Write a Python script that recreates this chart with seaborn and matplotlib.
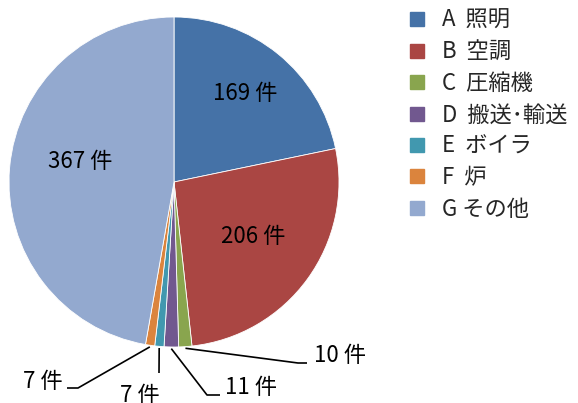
import numpy as np
import matplotlib
matplotlib.use("Agg")
import matplotlib.pyplot as plt
import seaborn as sns
from matplotlib.lines import Line2D

sns.set_theme(style="white")
plt.rcParams['font.family'] = ['Noto Sans CJK JP', 'DejaVu Sans']

# ---- data ----
categories = ["A  照明", "B  空調", "C  圧縮機", "D  搬送･輸送", "E  ボイラ", "F  炉", "G その他"]
counts = [169, 206, 10, 11, 7, 7, 367]
value_labels = ["169 件", "206 件", "10 件", "11 件", "7 件", "7 件", "367 件"]
colors = ["#4572A7", "#AA4643", "#89A54E", "#71588F", "#4198AF", "#DB843D", "#93A9CF"]

W, H, DPI = 578, 403, 100
CX, CY, R = 174, 182, 165  # pie centre and radius in pixels


def px(x, y):
    return (x - CX) / R, (CY - y) / R


fig = plt.figure(figsize=(W / DPI, H / DPI), dpi=DPI)
ax = fig.add_axes([0, 0, 1, 1])
wedges, _ = ax.pie(counts, colors=colors, startangle=90, counterclock=False,
                   wedgeprops=dict(edgecolor="white", linewidth=0.6))
ax.set_xlim((0 - CX) / R, (W - CX) / R)
ax.set_ylim((CY - H) / R, CY / R)
ax.set_aspect('equal', adjustable='box')
ax.axis('off')

FS = 16

# inside labels (pixel layout positions)
inside = {0: (245, 93), 1: (253, 237), 6: (80, 162)}
for i, (x, y) in inside.items():
    ax.text(*px(x, y), value_labels[i], ha='center', va='center', fontsize=FS, color='black')

# outside labels with leader lines: (elbow, end, text pos, ha)
outside = {
    2: ((298, 363), (307, 363), (314, 356), 'left'),
    3: ((207, 395), (220, 395), (225, 387), 'left'),
    4: (None, (159, 373), (140, 395), 'center'),
    5: ((78, 388), (67, 388), (63, 381), 'right'),
}
for i, (elbow, end, tpos, ha) in outside.items():
    w = wedges[i]
    mid = np.deg2rad((w.theta1 + w.theta2) / 2)
    sx, sy = 1.01 * np.cos(mid), 1.01 * np.sin(mid)
    pts = [(sx, sy)]
    if elbow is not None:
        pts.append(px(*elbow))
    pts.append(px(*end))
    xs, ys = zip(*pts)
    ax.plot(xs, ys, color='black', linewidth=1.2, solid_capstyle='butt')
    ax.text(*px(*tpos), value_labels[i], ha=ha, va='center', fontsize=FS, color='black')

handles = [Line2D([], [], marker='s', linestyle='', markersize=9.5,
                  markerfacecolor=c, markeredgecolor=c) for c in colors]
fig.legend(handles, categories, loc='upper left', bbox_to_anchor=(405.5 / W, 1 - 9 / H),
           frameon=False, fontsize=FS, handlelength=1.0, handletextpad=0.64,
           labelspacing=0.38, borderpad=0, borderaxespad=0)

fig.savefig("out.png", dpi=DPI)
